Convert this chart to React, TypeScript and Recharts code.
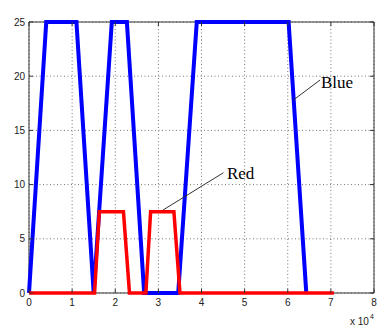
import { LineChart, Line, XAxis, YAxis, CartesianGrid, ReferenceArea, ReferenceLine, ReferenceDot } from "recharts";

const blueX = [0, 4000, 11000, 15000, 19200, 22700, 26700, 34600, 38900, 60200, 64300];
const blueY = [0, 25, 25, 0, 25, 25, 0, 0, 25, 25, 0];
const redX = [0, 15200, 16300, 21900, 23300, 27100, 28200, 33600, 35000, 70700];
const redY = [0, 0, 7.5, 7.5, 0, 0, 7.5, 7.5, 0, 0];
const xTicks = [0, 10000, 20000, 30000, 40000, 50000, 60000, 70000, 80000];
const yTicks = [0, 5, 10, 15, 20, 25];

const blueData = blueX.map((x, i) => ({ x, y: blueY[i] }));
const redData = redX.map((x, i) => ({ x, y: redY[i] }));

const W = 391;
const H = 333;
const TOP = 22;
const BOTTOM = 293;
const LEFT = 29;
const RIGHT = 374;
const AXIS = "#333";
const tickFont = "'Liberation Sans', Arial, sans-serif";

function XTick(props: any) {
  const { x, payload } = props;
  return (
    <g>
      <line x1={x} x2={x} y1={BOTTOM} y2={BOTTOM - 4} stroke={AXIS} />
      <line x1={x} x2={x} y1={TOP} y2={TOP + 4} stroke={AXIS} />
      <text x={x} y={BOTTOM + 13} textAnchor="middle" fontSize={10} fontFamily={tickFont} fill="#222">
        {payload.value / 10000}
      </text>
    </g>
  );
}

function YTick(props: any) {
  const { y, payload } = props;
  return (
    <g>
      <line x1={LEFT} x2={LEFT + 4} y1={y} y2={y} stroke={AXIS} />
      <line x1={RIGHT} x2={RIGHT - 4} y1={y} y2={y} stroke={AXIS} />
      <text x={LEFT - 4} y={y + 3.5} textAnchor="end" fontSize={10} fontFamily={tickFont} fill="#222">
        {payload.value}
      </text>
    </g>
  );
}

function ExpLabel(props: any) {
  const { viewBox } = props;
  const right = viewBox.x + viewBox.width;
  return (
    <text x={right - 24} y={viewBox.y + 32} fontSize={10} fontFamily={tickFont} fill="#222">
      x 10
      <tspan dx={1} dy={-6} fontSize={7}>4</tspan>
    </text>
  );
}

const note = (label: string) => (p: any) => (
  <text x={p.cx} y={p.cy} dominantBaseline="central" fontSize={17} fontFamily="'Liberation Serif', 'Times New Roman', serif" fill="#000">
    {label}
  </text>
);

export default function App() {
  return (
    <div style={{ position: "absolute", left: 0, top: 0, background: "#fff" }}>
      <LineChart width={W} height={H} margin={{ top: TOP, right: W - RIGHT, left: 0, bottom: 10 }}>
        <CartesianGrid stroke="#777" strokeDasharray="1 2.5" horizontalValues={yTicks} verticalValues={xTicks} />
        <XAxis
          type="number"
          dataKey="x"
          domain={[0, 80000]}
          ticks={xTicks}
          interval={0}
          allowDuplicatedCategory={false}
          height={H - BOTTOM - 10}
          axisLine={false}
          tickLine={false}
          tick={<XTick />}
          label={<ExpLabel />}
        />
        <YAxis type="number" dataKey="y" domain={[0, 25]} ticks={yTicks} interval={0} width={LEFT} axisLine={false} tickLine={false} tick={<YTick />} />
        <ReferenceArea x1={0} x2={80000} y1={0} y2={25} fill="none" stroke={AXIS} strokeWidth={1} />
        <Line data={blueData} dataKey="y" type="linear" stroke="#0000ff" strokeWidth={4} dot={false} isAnimationActive={false} />
        <Line data={redData} dataKey="y" type="linear" stroke="#ff0000" strokeWidth={3.5} dot={false} isAnimationActive={false} />
        <ReferenceLine segment={[{ x: 61300, y: 17.8 }, { x: 67500, y: 19.65 }]} stroke="#333" strokeWidth={1} />
        <ReferenceLine segment={[{ x: 31100, y: 7.66 }, { x: 45100, y: 11.1 }]} stroke="#333" strokeWidth={1} />
        <ReferenceDot x={67700} y={19.4} r={0} shape={note("Blue")} />
        <ReferenceDot x={45900} y={11.0} r={0} shape={note("Red")} />
      </LineChart>
    </div>
  );
}
